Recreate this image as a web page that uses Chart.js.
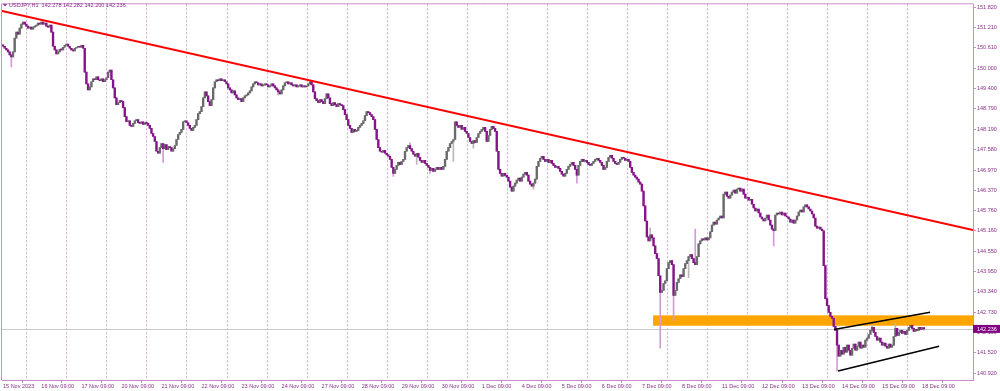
<!DOCTYPE html>
<html>
<head>
<meta charset="utf-8">
<script src="https://cdn.jsdelivr.net/npm/chart.js@4.4.0/dist/chart.umd.min.js"></script>
<style>
  html, body { margin: 0; padding: 0; background: #fff; }
  #wrap { width: 1000px; height: 391px; position: relative; }
</style>
</head>
<body>
<div id="wrap"><canvas id="canvas"></canvas></div>
<script>
// USDJPY H1, 15 Nov 2023 10:00 .. 18 Dec 2023 10:00 (24 bars per trading day)
let days = ["15 Nov", "16 Nov", "17 Nov", "20 Nov", "21 Nov", "22 Nov", "23 Nov", "24 Nov",
  "27 Nov", "28 Nov", "29 Nov", "30 Nov", "1 Dec", "4 Dec", "5 Dec", "6 Dec", "7 Dec", "8 Dec",
  "11 Dec", "12 Dec", "13 Dec", "14 Dec", "15 Dec", "18 Dec"];
let firstBarHour = 10;
let firstOpen = 150.70;

// closes, one row per day
let closes = [
  150.66, 150.60, 150.55, 150.49, 150.40, 150.34, 150.49, 150.90, 151.08, 151.02, 151.20, 151.32, 151.38, 151.32,
  151.26, 151.20, 151.23, 151.17, 151.23, 151.26, 151.29, 151.35, 151.32, 151.38, 151.32, 151.35, 151.26, 151.23, 151.29, 151.08, 150.66, 150.55, 150.43, 150.49, 150.57, 150.55, 150.63, 150.69,
  150.72, 150.66, 150.60, 150.55, 150.52, 150.60, 150.63, 150.66, 150.63, 150.69, 150.60, 149.89, 149.54, 149.36, 149.45, 149.60, 149.69, 149.66, 149.75, 149.66, 149.63, 149.69, 149.60, 149.66,
  149.72, 149.89, 149.95, 149.66, 149.42, 149.12, 148.92, 148.98, 149.04, 149.01, 148.83, 148.56, 148.41, 148.44, 148.30, 148.27, 148.36, 148.44, 148.47, 148.38, 148.36, 148.41, 148.33, 148.38,
  148.36, 148.30, 148.21, 148.06, 147.97, 147.82, 147.53, 147.47, 147.64, 147.76, 147.61, 147.73, 147.58, 147.67, 147.64, 147.53, 147.61, 147.70, 147.88, 148.03, 148.09, 148.18, 148.41, 148.44,
  148.38, 148.30, 148.21, 148.15, 148.24, 148.30, 148.47, 148.65, 148.71, 148.86, 149.12, 149.30, 149.18, 149.01, 148.89, 149.07, 149.42, 149.60, 149.66, 149.63, 149.69, 149.63, 149.66, 149.60,
  149.54, 149.42, 149.36, 149.27, 149.33, 149.21, 149.12, 149.07, 149.10, 149.01, 149.12, 149.18, 149.21, 149.27, 149.33, 149.45, 149.54, 149.60, 149.57, 149.51, 149.54, 149.48, 149.51, 149.54,
  149.51, 149.45, 149.48, 149.54, 149.48, 149.42, 149.36, 149.30, 149.24, 149.36, 149.48, 149.57, 149.60, 149.54, 149.57, 149.51, 149.48, 149.51, 149.45, 149.48, 149.51, 149.45, 149.48, 149.45,
  149.48, 149.54, 149.60, 149.51, 149.30, 149.10, 149.04, 148.98, 149.07, 149.01, 148.95, 149.10, 149.24, 149.12, 148.95, 148.89, 148.98, 148.92, 148.86, 148.95, 148.92, 148.89, 148.77, 148.62,
  148.47, 148.30, 148.21, 148.09, 148.18, 148.12, 148.15, 148.24, 148.30, 148.36, 148.44, 148.59, 148.71, 148.68, 148.62, 148.56, 148.47, 148.18, 147.88, 147.64, 147.53, 147.50, 147.56, 147.47,
  147.42, 147.38, 147.29, 147.05, 146.87, 146.99, 147.11, 147.20, 147.14, 147.23, 147.29, 147.53, 147.64, 147.70, 147.61, 147.53, 147.44, 147.38, 147.47, 147.35, 147.26, 147.20, 147.26, 147.17,
  147.11, 147.05, 146.96, 147.02, 146.93, 146.99, 147.05, 146.99, 147.05, 146.99, 147.08, 147.29, 147.53, 147.64, 147.76, 147.82, 147.88, 148.41, 148.30, 148.24, 148.30, 148.18, 148.24, 148.12,
  148.06, 147.94, 147.82, 147.76, 147.85, 147.79, 147.94, 148.06, 148.12, 148.18, 148.24, 148.12, 147.82, 148.00, 148.18, 148.27, 148.21, 148.12, 147.53, 146.99, 146.87, 146.79, 146.87, 146.81,
  146.76, 146.64, 146.46, 146.34, 146.49, 146.58, 146.67, 146.73, 146.64, 146.76, 146.85, 146.90, 146.82, 146.64, 146.55, 146.49, 146.58, 146.70, 147.08, 147.23, 147.32, 147.38, 147.29, 147.23,
  147.29, 147.20, 147.26, 147.17, 147.11, 147.05, 147.08, 147.02, 146.93, 146.85, 146.79, 146.87, 146.99, 147.08, 147.14, 147.20, 147.11, 146.99, 146.82, 147.11, 147.23, 147.29, 147.23, 147.26,
  147.20, 147.14, 147.11, 147.17, 147.23, 147.29, 147.32, 147.26, 147.20, 147.11, 146.99, 147.05, 147.23, 147.35, 147.41, 147.32, 147.23, 147.17, 147.14, 147.20, 147.29, 147.35, 147.32, 147.26,
  147.29, 147.23, 147.05, 146.90, 146.82, 146.76, 146.70, 146.61, 146.55, 146.34, 145.90, 145.45, 144.98, 144.86, 145.04, 144.95, 144.71, 144.48, 144.33, 143.82, 143.32, 143.38, 143.59, 143.67,
  144.03, 144.21, 144.27, 144.15, 143.23, 143.38, 143.62, 143.73, 143.85, 143.79, 144.03, 144.18, 144.27, 144.39, 144.45, 144.33, 144.21, 144.15, 144.39, 144.77, 144.86, 144.92, 144.89, 144.95,
  144.89, 144.95, 145.13, 145.33, 145.42, 145.36, 145.48, 145.54, 145.60, 145.54, 146.25, 146.31, 146.19, 146.13, 146.22, 146.31, 146.37, 146.28, 146.40, 146.43, 146.34, 146.40, 146.25, 146.13,
  146.16, 146.07, 146.10, 145.95, 145.84, 145.75, 145.81, 145.69, 145.57, 145.51, 145.45, 145.54, 145.63, 145.48, 145.33, 145.21, 145.16, 145.63, 145.69, 145.66, 145.72, 145.63, 145.69, 145.60,
  145.57, 145.51, 145.42, 145.48, 145.39, 145.48, 145.60, 145.72, 145.78, 145.72, 145.87, 145.93, 145.87, 145.81, 145.75, 145.66, 145.54, 145.30, 145.24, 145.27, 145.21, 145.16, 144.12, 143.14,
  142.93, 142.73, 142.61, 142.55, 142.31, 142.19, 141.75, 141.42, 141.60, 141.48, 141.69, 141.54, 141.75, 141.60, 141.45, 141.66, 141.78, 141.60, 141.72, 141.84, 141.66, 141.75, 141.69, 141.90,
  141.96, 142.07, 142.19, 142.28, 142.13, 142.01, 141.90, 141.96, 141.84, 141.75, 141.81, 141.72, 141.66, 141.78, 141.69, 141.75, 142.01, 142.25, 142.04, 142.13, 142.19, 142.10, 142.16, 142.07,
  142.19, 142.28, 142.34, 142.25, 142.16, 142.22, 142.19, 142.28, 142.22, 142.278, 142.236
];

// wicks that stick out of the bodies: [bar index, price]
let spikes = [
  [5, 150.04], [96, 147.20], [165, 149.21], [234, 146.78], [244, 147.78], [248, 147.14],
  [256, 146.87], [270, 147.23], [282, 147.62], [318, 146.40], [344, 146.58], [388, 145.25],
  [394, 141.66], [402, 142.49], [411, 143.76], [415, 145.21], [462, 144.71], [500, 140.98],
  [521, 142.34], [535, 142.40], [552, 142.282], [552, 142.200]
];

let yTicks = [151.82, 151.21, 150.61, 150.00, 149.40, 148.79, 148.19, 147.58, 146.97, 146.37,
  145.76, 145.16, 144.55, 143.95, 143.34, 142.73, 142.13, 141.52, 140.92];
let yMin = 140.713, yMax = 151.909;
let xMin = -0.6, xMax = 581.5;

// drawn objects
let redLine = [{ x: -0.6, y: 151.71 }, { x: 581.5, y: 145.18 }];
let upperChannel = [{ x: 498.2, y: 142.22 }, { x: 555.8, y: 142.73 }];
let lowerChannel = [{ x: 500.6, y: 140.98 }, { x: 561.2, y: 141.72 }];
let zoneStart = 389.7, zoneHigh = 142.64, zoneLow = 142.33;
let bid = 142.236;
let title = "USDJPY,H1  142.278 142.282 142.200 142.236";

let font = "'Liberation Sans', Arial, sans-serif";
let axisColor = "#8a2f8a";
let frameColor = "#c58fc8";
let gridColor = "#d9a6dc";

// build bars
let bars = [];
let prev = firstOpen;
closes.forEach((c, i) => {
  bars.push({ o: prev, c: c, h: Math.max(prev, c), l: Math.min(prev, c) });
  prev = c;
});
spikes.forEach(([i, p]) => {
  if (p > bars[i].h) bars[i].h = p;
  if (p < bars[i].l) bars[i].l = p;
});

// x-axis labels at 09:00 of each day, day separators at 00:00
let xTickIdx = [0];
let xTickLabels = [days[0] + " 2023"];
let dayStartIdx = [];
for (let k = 1; k < days.length; k++) {
  dayStartIdx.push(k * 24 - firstBarHour);
  xTickIdx.push(k * 24 - firstBarHour + 9);
  xTickLabels.push(days[k] + " 09:00");
}

let mt4 = {
  id: "mt4",
  beforeDatasetsDraw(chart) {
    let ctx = chart.ctx;
    let a = chart.chartArea;
    let xs = chart.scales.x, ys = chart.scales.y;
    ctx.save();
    // day separators
    ctx.strokeStyle = gridColor;
    ctx.lineWidth = 1;
    ctx.setLineDash([2, 2]);
    dayStartIdx.forEach((v) => {
      let px = Math.round(xs.getPixelForValue(v)) + 0.5;
      ctx.beginPath();
      ctx.moveTo(px, a.top);
      ctx.lineTo(px, a.bottom);
      ctx.stroke();
    });
    ctx.setLineDash([]);
    // zone
    let zx = xs.getPixelForValue(zoneStart);
    let zt = ys.getPixelForValue(zoneHigh);
    let zb = ys.getPixelForValue(zoneLow);
    ctx.fillStyle = "#ffa500";
    ctx.fillRect(zx, zt, a.right - zx, zb - zt);
    // bid line
    let by = Math.round(ys.getPixelForValue(bid)) + 0.5;
    ctx.strokeStyle = "#c8c8c8";
    ctx.beginPath();
    ctx.moveTo(a.left, by);
    ctx.lineTo(a.right, by);
    ctx.stroke();
    ctx.restore();
  },
  afterDraw(chart) {
    let ctx = chart.ctx;
    let a = chart.chartArea;
    let ys = chart.scales.y;
    ctx.save();
    // left / top frame
    ctx.strokeStyle = frameColor;
    ctx.lineWidth = 1;
    ctx.beginPath();
    ctx.moveTo(a.left - 0.5, a.bottom);
    ctx.lineTo(a.left - 0.5, a.top - 0.5);
    ctx.lineTo(a.right, a.top - 0.5);
    ctx.stroke();
    // title
    ctx.fillStyle = axisColor;
    ctx.beginPath();
    ctx.moveTo(3, 4);
    ctx.lineTo(7, 4);
    ctx.lineTo(5, 6.5);
    ctx.closePath();
    ctx.fill();
    ctx.font = "5.5px " + font;
    ctx.textBaseline = "middle";
    ctx.fillText(title, 9, 5.5);
    // price box
    let py = ys.getPixelForValue(bid);
    ctx.fillStyle = "#800080";
    ctx.fillRect(a.right, py - 4, 27, 8);
    ctx.fillStyle = "#ffffff";
    ctx.textAlign = "left";
    ctx.fillText(bid.toFixed(3), a.right + 4, py + 0.3);
    ctx.restore();
  }
};

let canvas = document.getElementById("canvas");
var chart = new Chart(canvas, {
  type: "bar",
  data: {
    datasets: [
      {
        label: "wicks",
        data: bars.map((b, i) => ({ x: i, y: [b.l, b.h] })),
        backgroundColor: bars.map((b) => (b.c >= b.o ? "#b9b9b9" : "#d39ad6")),
        barThickness: 1,
        grouped: false,
        order: 3,
      },
      {
        label: "bodies",
        data: bars.map((b, i) => ({ x: i, y: [b.o, b.c] })),
        backgroundColor: bars.map((b) => (b.c >= b.o ? "#6a6a6a" : "#851488")),
        barThickness: 1.7,
        minBarLength: 1,
        grouped: false,
        order: 2,
      },
      {
        type: "line",
        label: "trend",
        data: redLine,
        borderColor: "#ff0000",
        borderWidth: 2,
        pointRadius: 0,
        order: 1,
      },
      {
        type: "line",
        label: "upper",
        data: upperChannel,
        borderColor: "#000000",
        borderWidth: 1.6,
        pointRadius: 0,
        order: 1,
      },
      {
        type: "line",
        label: "lower",
        data: lowerChannel,
        borderColor: "#000000",
        borderWidth: 1.6,
        pointRadius: 0,
        order: 1,
      },
    ],
  },
  options: {
    responsive: true,
    maintainAspectRatio: false,
    animation: false,
    devicePixelRatio: 1,
    layout: { padding: { left: 2, top: 2, right: 0, bottom: 0 } },
    plugins: { legend: { display: false }, tooltip: { enabled: false } },
    scales: {
      x: {
        type: "linear",
        min: xMin,
        max: xMax,
        offset: false,
        afterBuildTicks: (s) => { s.ticks = xTickIdx.map((v) => ({ value: v })); },
        afterFit: (s) => { s.height = 11; },
        ticks: {
          autoSkip: false,
          maxRotation: 0,
          align: "start",
          padding: 0,
          color: axisColor,
          font: { size: 5.5, family: font },
          callback: (v, i) => xTickLabels[i],
        },
        grid: { drawOnChartArea: false, drawTicks: true, tickLength: 3, color: frameColor },
        border: { color: frameColor },
      },
      y: {
        position: "right",
        min: yMin,
        max: yMax,
        afterBuildTicks: (s) => { s.ticks = yTicks.map((v) => ({ value: v })); },
        afterFit: (s) => { s.width = 27; },
        ticks: {
          padding: 1,
          color: axisColor,
          font: { size: 5.5, family: font },
          callback: (v) => Number(v).toFixed(3),
        },
        grid: { drawOnChartArea: false, drawTicks: true, tickLength: 3, color: frameColor },
        border: { color: frameColor },
      },
    },
  },
  plugins: [mt4],
});
</script>
</body>
</html>
